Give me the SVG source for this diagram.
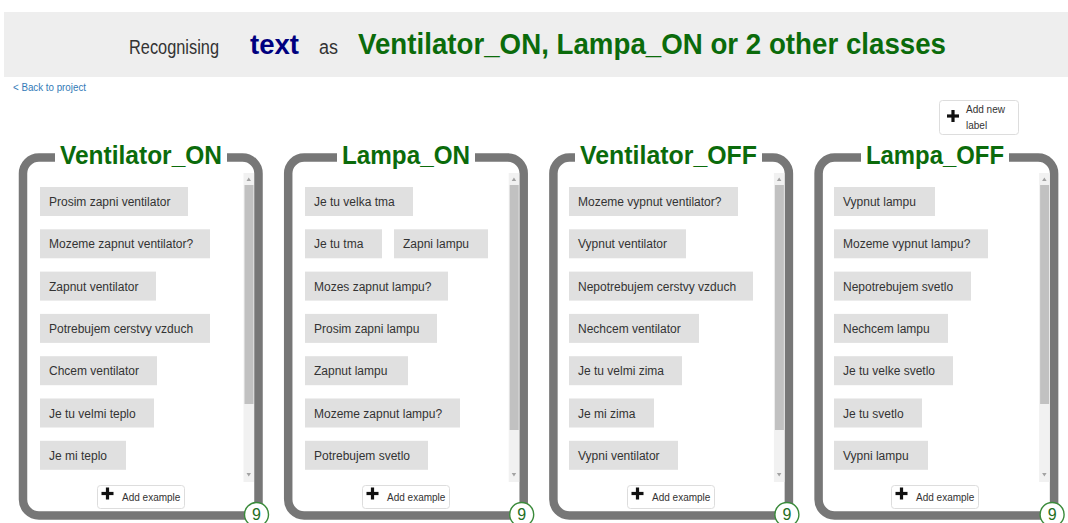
<svg xmlns="http://www.w3.org/2000/svg" width="1068" height="523" viewBox="0 0 1068 523">
<style>
text{font-family:"Liberation Sans",Arial,sans-serif}
.border{fill:none;stroke:#777;stroke-width:8.5}
.gap{fill:#fff}
.title{font-weight:bold;font-size:26px;fill:#0b6b0b;text-anchor:middle}
.ex{fill:#e0e0e0}
.ext{font-size:12px;fill:#333}
.track{fill:#f1f1f1}
.thumb{fill:#c1c1c1}
.arr{fill:#a3a3a3}
.btn{fill:#fff;stroke:#ddd;stroke-width:1}
.btnt{font-size:10px;fill:#333}
.plus{fill:#111}
.badge{fill:#fff;stroke:#3a8a3a;stroke-width:1.4}
.badget{font-size:16px;fill:#1f6f1f;text-anchor:middle}
</style>
<defs>
<g id="plus"><rect x="-6" y="-1.6" width="12" height="3.2"/><rect x="-1.6" y="-6" width="3.2" height="12"/></g>
</defs>
<rect width="1068" height="523" fill="#fff"/>
<g id="header">
<rect x="4" y="12" width="1064" height="65" fill="#eeeeee"/>
<text x="129" y="53.5" font-size="21" fill="#333" textLength="90" lengthAdjust="spacingAndGlyphs">Recognising</text>
<text x="250" y="53.5" font-size="27" font-weight="bold" fill="#00007f" textLength="49" lengthAdjust="spacingAndGlyphs">text</text>
<text x="319" y="53.5" font-size="20" fill="#333" textLength="19" lengthAdjust="spacingAndGlyphs">as</text>
<text x="358" y="53.5" font-size="30" font-weight="bold" fill="#0b6b0b" textLength="588" lengthAdjust="spacingAndGlyphs">Ventilator_ON, Lampa_ON or 2 other classes</text>
</g>
<g id="back"><text x="13" y="91" font-size="10" fill="#337ab7" textLength="73" lengthAdjust="spacingAndGlyphs">&lt; Back to project</text></g>
<g id="add-label">
<rect class="btn" x="939.5" y="100.5" width="79" height="34" rx="3"/>
<use href="#plus" class="plus" x="953" y="116"/>
<text class="btnt" x="966" y="113">Add new</text>
<text class="btnt" x="966" y="129">label</text>
</g>
<g id="connectors"></g>

<g id="card-ventilator-on">
<path class="border" d="M39,157.5 H242.5 A16,16 0 0 1 258.5,173.5 V515.5 H39 A16,16 0 0 1 23,499.5 V173.5 A16,16 0 0 1 39,157.5 Z"/>
<rect class="gap" x="55" y="148" width="172" height="20"/>
<text class="title" x="141" y="164" textLength="162" lengthAdjust="spacingAndGlyphs">Ventilator_ON</text>
<rect class="track" x="243.5" y="173" width="10.5" height="309"/>
<rect class="thumb" x="244.5" y="185" width="9" height="219"/>
<path class="arr" d="M246.5,181 L248.75,177.5 L251,181 Z M246.5,473 L248.75,476.5 L251,473 Z"/>
<rect class="ex" x="40" y="187" width="148" height="29"/><text class="ext" x="49" y="206">Prosim zapni ventilator</text>
<rect class="ex" x="40" y="229.3" width="170" height="29"/><text class="ext" x="49" y="248.3">Mozeme zapnut ventilator?</text>
<rect class="ex" x="40" y="271.6" width="116" height="29"/><text class="ext" x="49" y="290.6">Zapnut ventilator</text>
<rect class="ex" x="40" y="313.9" width="170" height="29"/><text class="ext" x="49" y="332.9">Potrebujem cerstvy vzduch</text>
<rect class="ex" x="40" y="356.2" width="117" height="29"/><text class="ext" x="49" y="375.2">Chcem ventilator</text>
<rect class="ex" x="40" y="398.5" width="114" height="29"/><text class="ext" x="49" y="417.5">Je tu velmi teplo</text>
<rect class="ex" x="40" y="440.8" width="86" height="29"/><text class="ext" x="49" y="459.8">Je mi teplo</text>
<rect class="btn" x="97.5" y="485.5" width="87" height="23" rx="3"/>
<use href="#plus" class="plus" x="107.5" y="493.5"/>
<text class="btnt" x="122" y="500.5">Add example</text>
<circle class="badge" cx="256.5" cy="514.5" r="12"/>
<text class="badget" x="256.5" y="520">9</text>
</g>

<g id="card-lampa-on">
<path class="border" d="M304.2,157.5 H507.7 A16,16 0 0 1 523.7,173.5 V515.5 H304.2 A16,16 0 0 1 288.2,499.5 V173.5 A16,16 0 0 1 304.2,157.5 Z"/>
<rect class="gap" x="337" y="148" width="138" height="20"/>
<text class="title" x="406" y="164" textLength="128" lengthAdjust="spacingAndGlyphs">Lampa_ON</text>
<rect class="track" x="508.7" y="173" width="10.5" height="309"/>
<rect class="thumb" x="509.7" y="185" width="9" height="245"/>
<path class="arr" d="M511.7,181 L513.95,177.5 L516.2,181 Z M511.7,473 L513.95,476.5 L516.2,473 Z"/>
<rect class="ex" x="305" y="187" width="108" height="29"/><text class="ext" x="314" y="206">Je tu velka tma</text>
<rect class="ex" x="305" y="229.3" width="77" height="29"/><text class="ext" x="314" y="248.3">Je tu tma</text>
<rect class="ex" x="394" y="229.3" width="94" height="29"/><text class="ext" x="403" y="248.3">Zapni lampu</text>
<rect class="ex" x="305" y="271.6" width="143" height="29"/><text class="ext" x="314" y="290.6">Mozes zapnut lampu?</text>
<rect class="ex" x="305" y="313.9" width="132" height="29"/><text class="ext" x="314" y="332.9">Prosim zapni lampu</text>
<rect class="ex" x="305" y="356.2" width="103" height="29"/><text class="ext" x="314" y="375.2">Zapnut lampu</text>
<rect class="ex" x="305" y="398.5" width="155" height="29"/><text class="ext" x="314" y="417.5">Mozeme zapnut lampu?</text>
<rect class="ex" x="305" y="440.8" width="123" height="29"/><text class="ext" x="314" y="459.8">Potrebujem svetlo</text>
<rect class="btn" x="362.5" y="485.5" width="87" height="23" rx="3"/>
<use href="#plus" class="plus" x="372.5" y="493.5"/>
<text class="btnt" x="387" y="500.5">Add example</text>
<circle class="badge" cx="521.7" cy="514.5" r="12"/>
<text class="badget" x="521.7" y="520">9</text>
</g>

<g id="card-ventilator-off">
<path class="border" d="M569.4,157.5 H772.9 A16,16 0 0 1 788.9,173.5 V515.5 H569.4 A16,16 0 0 1 553.4,499.5 V173.5 A16,16 0 0 1 569.4,157.5 Z"/>
<rect class="gap" x="575" y="148" width="187" height="20"/>
<text class="title" x="668.5" y="164" textLength="177" lengthAdjust="spacingAndGlyphs">Ventilator_OFF</text>
<rect class="track" x="773.9" y="173" width="10.5" height="309"/>
<rect class="thumb" x="774.9" y="185" width="9" height="245"/>
<path class="arr" d="M776.9,181 L779.15,177.5 L781.4,181 Z M776.9,473 L779.15,476.5 L781.4,473 Z"/>
<rect class="ex" x="569" y="187" width="169" height="29"/><text class="ext" x="578" y="206">Mozeme vypnut ventilator?</text>
<rect class="ex" x="569" y="229.3" width="117" height="29"/><text class="ext" x="578" y="248.3">Vypnut ventilator</text>
<rect class="ex" x="569" y="271.6" width="184" height="29"/><text class="ext" x="578" y="290.6">Nepotrebujem cerstvy vzduch</text>
<rect class="ex" x="569" y="313.9" width="130" height="29"/><text class="ext" x="578" y="332.9">Nechcem ventilator</text>
<rect class="ex" x="569" y="356.2" width="113" height="29"/><text class="ext" x="578" y="375.2">Je tu velmi zima</text>
<rect class="ex" x="569" y="398.5" width="85" height="29"/><text class="ext" x="578" y="417.5">Je mi zima</text>
<rect class="ex" x="569" y="440.8" width="109" height="29"/><text class="ext" x="578" y="459.8">Vypni ventilator</text>
<rect class="btn" x="627.5" y="485.5" width="87" height="23" rx="3"/>
<use href="#plus" class="plus" x="637.5" y="493.5"/>
<text class="btnt" x="652" y="500.5">Add example</text>
<circle class="badge" cx="786.9" cy="514.5" r="12"/>
<text class="badget" x="786.9" y="520">9</text>
</g>

<g id="card-lampa-off">
<path class="border" d="M834.6,157.5 H1038.1 A16,16 0 0 1 1054.1,173.5 V515.5 H834.6 A16,16 0 0 1 818.6,499.5 V173.5 A16,16 0 0 1 834.6,157.5 Z"/>
<rect class="gap" x="861" y="148" width="148" height="20"/>
<text class="title" x="935" y="164" textLength="138" lengthAdjust="spacingAndGlyphs">Lampa_OFF</text>
<rect class="track" x="1039.1" y="173" width="10.5" height="309"/>
<rect class="thumb" x="1040.1" y="185" width="9" height="219"/>
<path class="arr" d="M1042.1,181 L1044.35,177.5 L1046.6,181 Z M1042.1,473 L1044.35,476.5 L1046.6,473 Z"/>
<rect class="ex" x="834" y="187" width="101" height="29"/><text class="ext" x="843" y="206">Vypnut lampu</text>
<rect class="ex" x="834" y="229.3" width="154" height="29"/><text class="ext" x="843" y="248.3">Mozeme vypnut lampu?</text>
<rect class="ex" x="834" y="271.6" width="137" height="29"/><text class="ext" x="843" y="290.6">Nepotrebujem svetlo</text>
<rect class="ex" x="834" y="313.9" width="114" height="29"/><text class="ext" x="843" y="332.9">Nechcem lampu</text>
<rect class="ex" x="834" y="356.2" width="119" height="29"/><text class="ext" x="843" y="375.2">Je tu velke svetlo</text>
<rect class="ex" x="834" y="398.5" width="88" height="29"/><text class="ext" x="843" y="417.5">Je tu svetlo</text>
<rect class="ex" x="834" y="440.8" width="94" height="29"/><text class="ext" x="843" y="459.8">Vypni lampu</text>
<rect class="btn" x="891.5" y="485.5" width="87" height="23" rx="3"/>
<use href="#plus" class="plus" x="901.5" y="493.5"/>
<text class="btnt" x="916" y="500.5">Add example</text>
<circle class="badge" cx="1052.1" cy="514.5" r="12"/>
<text class="badget" x="1052.1" y="520">9</text>
</g>
</svg>
